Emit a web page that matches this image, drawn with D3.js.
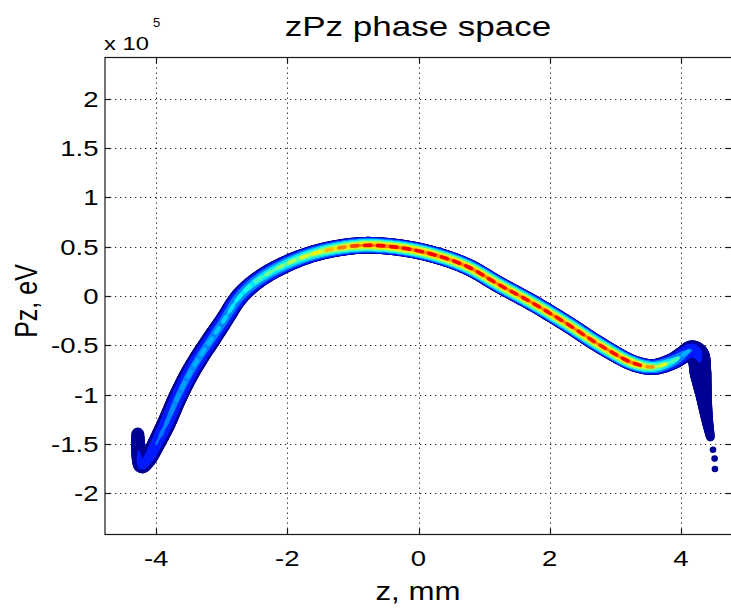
<!DOCTYPE html>
<html>
<head>
<meta charset="utf-8">
<script src="https://cdn.jsdelivr.net/npm/d3@7"></script>
<style>
  body { margin: 0; background: #fff; }
  text { font-family: "Liberation Sans", Arial, Helvetica, sans-serif; fill: #000; }
</style>
</head>
<body>
<div id="chart"></div>
<script>
// centre line of the beam (z in mm, Pz in units of 1e5 eV)
const trackZ  = [-4.28, -4.27, -4.22, -4.12, -4.00, -3.85, -3.68, -3.50, -3.33, -3.15,
                 -2.97, -2.72, -2.41, -2.00, -1.60, -1.19, -0.79, -0.28, 0.23, 0.74,
                 1.24, 1.75, 2.26, 2.77, 3.27, 3.58, 3.88, 4.05, 4.17, 4.26,
                 4.30, 4.35, 4.40, 4.45];
const trackPz = [-1.40, -1.56, -1.72, -1.65, -1.50, -1.30, -1.04, -0.80, -0.61, -0.43,
                 -0.25, 0.00, 0.18, 0.33, 0.43, 0.49, 0.515, 0.49, 0.42, 0.30,
                 0.11, -0.075, -0.28, -0.50, -0.68, -0.72, -0.66, -0.59, -0.55, -0.60,
                 -0.78, -1.02, -1.25, -1.43];
// peak density along the track (normalised, drives the jet colour)
const trackDensity = [0.08, 0.10, 0.14, 0.17, 0.20, 0.22, 0.24, 0.25, 0.26, 0.27,
                      0.29, 0.33, 0.40, 0.46, 0.55, 0.66, 0.76, 0.77, 0.77, 0.76,
                      0.75, 0.75, 0.75, 0.74, 0.77, 0.58, 0.38, 0.25, 0.20, 0.12,
                      0.07, 0.05, 0.05, 0.05];
// half thickness of the band (units of 1e5 eV)
const trackSpread = [0.065, 0.075, 0.08, 0.085, 0.09, 0.095, 0.095, 0.095, 0.095, 0.095,
                     0.09, 0.09, 0.088, 0.087, 0.085, 0.085, 0.085, 0.085, 0.085, 0.085,
                     0.085, 0.085, 0.085, 0.085, 0.082, 0.08, 0.085, 0.09, 0.10, 0.115,
                     0.11, 0.08, 0.06, 0.045];
// stray particles under the right tail
const strayZ  = [4.49, 4.515, 4.52];
const strayPz = [-1.56, -1.65, -1.755];

const xTicks = [-4, -2, 0, 2, 4];
const yTicks = [-2, -1.5, -1, -0.5, 0, 0.5, 1, 1.5, 2];
const zDomain = [-4.78, 4.78];
const pzDomain = [-2.42, 2.42];
const contourLevels = [0.02, 0.1, 0.2, 0.3, 0.4, 0.5, 0.6, 0.7];

const width = 731, height = 608;
const plot = {left: 105, right: 732, top: 57.5, bottom: 534.5};
const textStretch = 1.25;

const svg = d3.select("#chart").append("svg")
  .attr("width", width)
  .attr("height", height);

const x = d3.scaleLinear().domain(zDomain).range([plot.left, plot.right]);
const y = d3.scaleLinear().domain(pzDomain).range([plot.bottom, plot.top]);

// MATLAB jet colormap
function jet(v) {
  const c = t => Math.round(255 * Math.max(0, Math.min(1, t)));
  return `rgb(${c(1.5 - Math.abs(4 * v - 3))},${c(1.5 - Math.abs(4 * v - 2))},${c(1.5 - Math.abs(4 * v - 1))})`;
}

function stretch(sel, k) {
  sel.each(function() {
    const w = this.getComputedTextLength();
    d3.select(this).attr("textLength", w * k).attr("lengthAdjust", "spacingAndGlyphs");
  });
  return sel;
}

// dotted grid
const grid = svg.append("g")
  .attr("stroke", "#222")
  .attr("stroke-width", 1)
  .attr("stroke-dasharray", "1.3,3.7");
grid.selectAll(".gx").data(xTicks).join("line")
  .attr("x1", d => Math.round(x(d)) + 0.5).attr("x2", d => Math.round(x(d)) + 0.5)
  .attr("y1", plot.top).attr("y2", plot.bottom);
grid.selectAll(".gy").data(yTicks).join("line")
  .attr("y1", d => Math.round(y(d)) + 0.5).attr("y2", d => Math.round(y(d)) + 0.5)
  .attr("x1", plot.left).attr("x2", plot.right);

// the phase-space band, drawn as nested contour strokes along the track
const track = trackZ.map((z, i) => ({z, pz: trackPz[i], dens: trackDensity[i], spread: trackSpread[i]}));
const line = d3.line().x(d => x(d.z)).y(d => y(d.pz)).curve(d3.curveCatmullRom.alpha(0.5));
const guide = svg.append("path").attr("d", line(track)).attr("fill", "none").attr("stroke", "none");
const node = guide.node();
const total = node.getTotalLength();

// arc length of each data point along the guide
const knots = [];
let from = 0;
track.forEach(d => {
  const px = x(d.z), py = y(d.pz);
  let best = Infinity, bestS = from;
  for (let s = from; s <= Math.min(total, from + 120); s += 0.5) {
    const p = node.getPointAtLength(s);
    const dd = (p.x - px) ** 2 + (p.y - py) ** 2;
    if (dd < best) { best = dd; bestS = s; }
  }
  knots.push(bestS);
  from = bestS;
});

function at(s) {
  let i = d3.bisectRight(knots, s) - 1;
  i = Math.max(0, Math.min(knots.length - 2, i));
  const t = Math.max(0, Math.min(1, (s - knots[i]) / (knots[i + 1] - knots[i] || 1)));
  const a = track[i], b = track[i + 1];
  const p = node.getPointAtLength(s);
  const spread = a.spread + (b.spread - a.spread) * t;
  return {
    x: p.x, y: p.y,
    dens: a.dens + (b.dens - a.dens) * t,
    w: Math.abs(y(0) - y(spread))
  };
}

const samples = d3.range(0, total, 1.5).concat([total]).map(at);
const pieces = d3.pairs(samples).map(([a, b]) => ({a, b, dens: (a.dens + b.dens) / 2, w: (a.w + b.w) / 2}));

const band = svg.append("g").attr("stroke-linecap", "round").attr("fill", "none");
const L0 = contourLevels[0];
contourLevels.forEach((lev, k) => {
  const segs = pieces.filter(p => p.dens > lev);
  band.append("g")
    .attr("stroke", jet(k === 0 ? lev : lev + 0.05))
    .selectAll("line").data(segs).join("line")
    .attr("x1", p => p.a.x).attr("y1", p => p.a.y)
    .attr("x2", p => p.b.x).attr("y2", p => p.b.y)
    .attr("stroke-width", p => 2 * p.w * Math.max(0.1, Math.pow(1 - (lev - L0) / (p.dens - L0), 0.7)));
});

// beaded core (binning of the histogram)
const period = 13, dash = 6;
const beads = d3.range(3, total - dash, period).map(s => ({a: at(s), b: at(s + dash)}))
  .filter(d => d.a.dens > 0.2);
band.append("g").selectAll("line").data(beads).join("line")
  .attr("x1", d => d.a.x).attr("y1", d => d.a.y)
  .attr("x2", d => d.b.x).attr("y2", d => d.b.y)
  .attr("stroke", d => jet(Math.min(0.9, d.a.dens * 1.15)))
  .attr("stroke-width", d => d.a.w * 0.45);

// stray particles
svg.append("g").selectAll("circle").data(strayZ).join("circle")
  .attr("cx", d => x(d))
  .attr("cy", (d, i) => y(strayPz[i]))
  .attr("r", 3.3)
  .attr("fill", jet(0.02));

// frame and inward ticks
const frame = svg.append("g").attr("stroke", "#1a1a1a").attr("stroke-width", 1.2).attr("fill", "none");
frame.append("rect")
  .attr("x", plot.left).attr("y", plot.top)
  .attr("width", plot.right - plot.left).attr("height", plot.bottom - plot.top);
const tickLen = 6;
xTicks.forEach(t => {
  const px = Math.round(x(t)) + 0.5;
  frame.append("line").attr("x1", px).attr("x2", px).attr("y1", plot.bottom).attr("y2", plot.bottom - tickLen);
  frame.append("line").attr("x1", px).attr("x2", px).attr("y1", plot.top).attr("y2", plot.top + tickLen);
});
yTicks.forEach(t => {
  const py = Math.round(y(t)) + 0.5;
  frame.append("line").attr("y1", py).attr("y2", py).attr("x1", plot.left).attr("x2", plot.left + tickLen);
  frame.append("line").attr("y1", py).attr("y2", py).attr("x1", plot.right).attr("x2", plot.right - tickLen);
});

// tick labels
const tickFont = 22;
svg.append("g").selectAll("text").data(xTicks).join("text")
  .attr("x", d => x(d))
  .attr("y", 566)
  .attr("text-anchor", "middle")
  .attr("font-size", tickFont)
  .text(d => d)
  .call(stretch, textStretch);
svg.append("g").selectAll("text").data(yTicks).join("text")
  .attr("x", 98.5)
  .attr("y", d => y(d) + 8)
  .attr("text-anchor", "end")
  .attr("font-size", tickFont)
  .text(d => d)
  .call(stretch, textStretch);

// exponent
svg.append("text")
  .attr("x", 104)
  .attr("y", 50)
  .attr("font-size", 19)
  .text("x 10")
  .call(stretch, textStretch);
svg.append("text")
  .attr("x", 153)
  .attr("y", 27)
  .attr("font-size", 13)
  .text("5");

// title and axis labels
svg.append("text")
  .attr("x", 418)
  .attr("y", 36)
  .attr("text-anchor", "middle")
  .attr("font-size", 28)
  .text("zPz phase space")
  .call(stretch, textStretch);

svg.append("text")
  .attr("x", 418)
  .attr("y", 600)
  .attr("text-anchor", "middle")
  .attr("font-size", 25)
  .text("z, mm")
  .call(stretch, textStretch);

svg.append("text")
  .attr("transform", `translate(37,301) scale(${textStretch},1) rotate(-90)`)
  .attr("text-anchor", "middle")
  .attr("font-size", 25)
  .text("Pz, eV");
</script>
</body>
</html>
